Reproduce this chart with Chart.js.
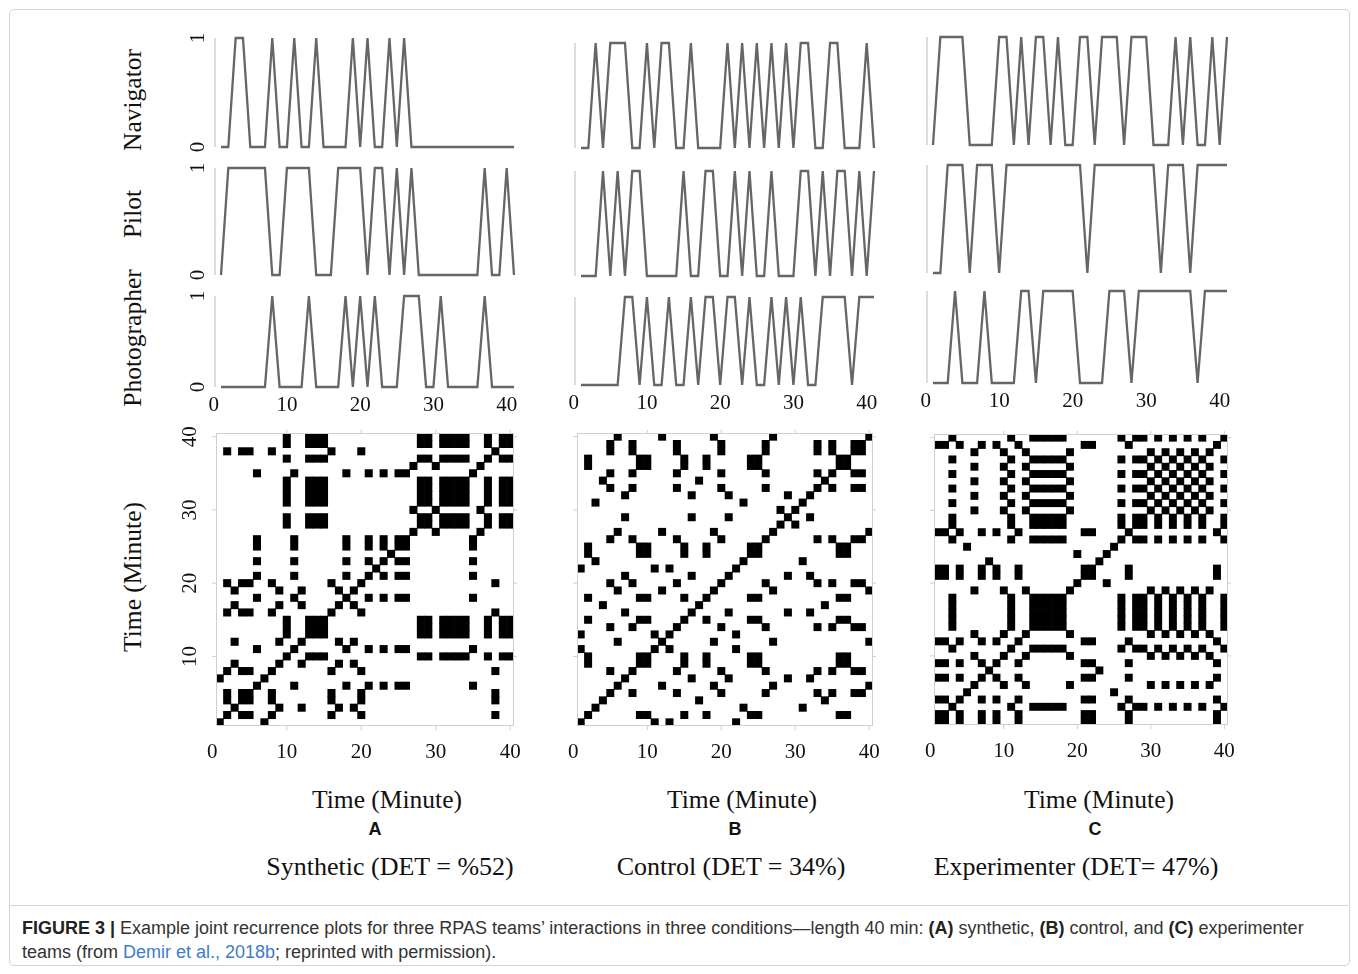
<!DOCTYPE html>
<html>
<head>
<meta charset="utf-8">
<script src="https://cdn.jsdelivr.net/npm/chart.js@4.4.1/dist/chart.umd.min.js"></script>
<style>
  body { margin: 0; background: #fff; }
  #fig { position: relative; width: 1358px; height: 974px; overflow: hidden; background: #fff;
         font-family: 'Liberation Serif', 'Times New Roman', serif; color: #111; }
  #fig canvas { position: absolute; }
  .t { position: absolute; white-space: nowrap; transform: translate(-50%, -50%); }
  .rot { transform: translate(-50%, -50%) rotate(-90deg); }
  .serif { font-size: 25.5px; }
  .sub { font-size: 26px; }
  .letter { font-family: 'Liberation Sans', Arial, sans-serif; font-weight: bold; font-size: 18px; }
  #box { position: absolute; left: 9px; top: 9px; width: 1339px; height: 955px; border: 1px solid #d4d4d4; border-radius: 5px; }
  #rule { position: absolute; left: 10px; top: 905px; width: 1338px; height: 0; border-top: 1px solid #d4d4d4; }
  .cap { position: absolute; left: 22px; font-family: 'Liberation Sans', Arial, sans-serif; font-size: 18px; color: #333; white-space: nowrap; }
  .cap b { color: #222; }
  .cap .lnk { color: #3d7cc9; }
</style>
</head>
<body>
<div id="fig">
  <div id="box"></div>
  <div id="rule"></div>

  <div class="t rot serif" style="left:133px; top:100px;">Navigator</div>
  <div class="t rot serif" style="left:133px; top:214px;">Pilot</div>
  <div class="t rot serif" style="left:133px; top:338px;">Photographer</div>
  <div class="t rot serif" style="left:133px; top:577px;">Time (Minute)</div>

  <div class="t serif" style="left:387px; top:800px;">Time (Minute)</div>
  <div class="t serif" style="left:742px; top:800px;">Time (Minute)</div>
  <div class="t serif" style="left:1099px; top:800px;">Time (Minute)</div>

  <div class="t letter" style="left:375px; top:829px;">A</div>
  <div class="t letter" style="left:735px; top:829px;">B</div>
  <div class="t letter" style="left:1095px; top:829px;">C</div>

  <div class="t sub" style="left:390px; top:867px;">Synthetic (DET = %52)</div>
  <div class="t sub" style="left:731px; top:867px;">Control (DET = 34%)</div>
  <div class="t sub" style="left:1076px; top:867px;">Experimenter (DET= 47%)</div>

  <div class="cap" style="top:918px;"><b>FIGURE 3 |</b> Example joint recurrence plots for three RPAS teams’ interactions in three conditions—length 40 min: <b>(A)</b> synthetic, <b>(B)</b> control, and <b>(C)</b> experimenter</div>
  <div class="cap" style="top:942px;">teams (from <span class="lnk">Demir et al., 2018b</span>; reprinted with permission).</div>
</div>

<script>
// sample times (minutes) of the activity traces
const sampleMinutes = [1,2,3,4,5,6,7,8,9,10,11,12,13,14,15,16,17,18,19,20,21,22,23,24,25,26,27,28,29,30,31,32,33,34,35,36,37,38,39,40,41];
// minutes of the recurrence grid
const rpMinutes = [1,2,3,4,5,6,7,8,9,10,11,12,13,14,15,16,17,18,19,20,21,22,23,24,25,26,27,28,29,30,31,32,33,34,35,36,37,38,39,40];
const xTickLabels = [0, 10, 20, 30, 40];
const rpTickLabels = [10, 20, 30, 40];
const levelTicks = [0, 1];

// A - synthetic
const navigatorA    = [0,0,1,1,0,0,0,1,0,0,1,0,0,1,0,0,0,0,1,0,1,0,0,1,0,1,0,0,0,0,0,0,0,0,0,0,0,0,0,0,0];
const pilotA        = [0,1,1,1,1,1,1,0,0,1,1,1,1,0,0,0,1,1,1,1,0,1,1,0,1,0,1,0,0,0,0,0,0,0,0,0,1,0,0,1,0];
const photographerA = [0,0,0,0,0,0,0,1,0,0,0,0,1,0,0,0,0,1,0,1,0,1,0,0,0,1,1,1,0,0,1,0,0,0,0,0,1,0,0,0,0];
// B - control
const navigatorB    = [0,0,1,0,1,1,1,0,0,1,0,1,1,0,0,1,0,0,0,0,1,0,1,0,1,0,1,0,1,0,1,1,0,0,1,1,0,0,0,1,0];
const pilotB        = [0,0,0,1,0,1,0,1,1,0,0,0,0,0,1,0,0,1,1,0,0,1,0,1,0,0,1,0,0,0,1,1,0,1,0,1,1,0,1,0,1];
const photographerB = [0,0,0,0,0,0,1,1,0,1,0,0,1,0,0,1,0,1,1,0,1,1,0,1,0,0,1,0,1,0,1,0,0,1,1,1,1,0,1,1,1];
// C - experimenter
const navigatorC    = [0,1,1,1,1,0,0,0,0,1,1,0,1,0,1,1,0,1,0,0,1,1,0,1,1,1,0,1,1,1,0,0,0,1,0,1,0,0,1,0,1];
const pilotC        = [0,0,1,1,1,0,1,1,1,0,1,1,1,1,1,1,1,1,1,1,1,0,1,1,1,1,1,1,1,1,1,0,1,1,1,0,1,1,1,1,1];
const photographerC = [0,0,0,1,0,0,0,1,0,0,0,0,1,1,0,1,1,1,1,1,0,0,0,0,1,1,1,0,1,1,1,1,1,1,1,1,0,1,1,1,1];

// joint team state per minute (same number = recurrent)
const teamStateA = [6,2,4,2,2,3,6,2,4,1,3,4,1,1,1,2,4,3,4,2,3,7,3,8,3,3,5,1,1,5,1,1,1,1,3,5,1,2,1,1];
const teamStateB = [5,1,6,7,2,3,4,2,1,1,5,3,5,2,1,4,7,1,3,2,4,5,6,1,1,2,3,8,4,8,6,4,2,7,2,1,1,2,2,3];
const teamStateC = [3,3,1,3,4,2,3,5,3,2,1,3,2,1,1,1,1,1,2,6,3,3,5,6,4,1,3,1,1,2,1,2,1,2,1,2,1,2,3,1];

function recurrenceCells(states) {
  const pts = [];
  rpMinutes.forEach((mi, i) => rpMinutes.forEach((mj, j) => {
    if (states[i] === states[j]) pts.push({ x: mi, y: mj });
  }));
  return pts;
}

const fig = document.getElementById('fig');
const SERIF = '"Liberation Serif", "Times New Roman", serif';

const decor = {
  id: 'decor',
  afterDatasetsDraw(chart, args, o) {
    const { ctx, chartArea: a } = chart;
    const sx = chart.scales.x, sy = chart.scales.y;
    ctx.save();
    if (o.axisLine) {
      ctx.strokeStyle = '#d2d2d2'; ctx.lineWidth = 1.5;
      ctx.beginPath();
      ctx.moveTo(a.left - o.axisLine, sy.getPixelForValue(1));
      ctx.lineTo(a.left - o.axisLine, sy.getPixelForValue(0));
      ctx.stroke();
    }
    if (o.frame) {
      ctx.strokeStyle = '#cfcfcf'; ctx.lineWidth = 1;
      ctx.strokeRect(a.left + 0.5, a.top + 0.5, a.right - a.left - 1, a.bottom - a.top - 1);
      ctx.beginPath();
      rpTickLabels.forEach(v => {
        const px = sx.getPixelForValue(v), py = sy.getPixelForValue(v);
        ctx.moveTo(px, a.bottom); ctx.lineTo(px, a.bottom + 4);
        ctx.moveTo(px, a.top); ctx.lineTo(px, a.top - 3);
        ctx.moveTo(a.left, py); ctx.lineTo(a.left - 4, py);
        ctx.moveTo(a.right, py); ctx.lineTo(a.right + 3, py);
      });
      ctx.stroke();
    }
    ctx.fillStyle = '#111';
    ctx.font = o.font || ('21px ' + SERIF);
    ctx.textAlign = 'center'; ctx.textBaseline = 'middle';
    if (o.xLabels) o.xLabels.forEach(v => ctx.fillText(String(v), sx.getPixelForValue(v), a.bottom + o.xGap));
    if (o.yLabels) o.yLabels.forEach(v => {
      ctx.save();
      ctx.translate(a.left - o.yGap, sy.getPixelForValue(v));
      ctx.rotate(-Math.PI / 2);
      ctx.fillText(String(v), 0, 0);
      ctx.restore();
    });
    ctx.restore();
  }
};

function place(left, top, right, bottom, config) {
  const pad = 40;
  const c = document.createElement('canvas');
  const w = Math.round(right - left) + 2 * pad, h = Math.round(bottom - top) + 2 * pad;
  c.width = w; c.height = h;
  c.style.width = w + 'px'; c.style.height = h + 'px';
  c.style.left = Math.round(left - pad) + 'px';
  c.style.top = Math.round(top - pad) + 'px';
  fig.appendChild(c);
  config.options.layout = { padding: pad };
  config.options.responsive = false;
  config.options.animation = false;
  config.options.events = [];
  config.options.plugins = Object.assign({ legend: { display: false }, tooltip: { enabled: false } }, config.options.plugins);
  config.plugins = [decor];
  return new Chart(c, config);
}

function tracePanel(x0, x1, yTop, yBottom, values, showLevels, showX) {
  place(x0, yTop, x1, yBottom, {
    type: 'line',
    data: {
      datasets: [{
        data: sampleMinutes.map((m, i) => ({ x: m, y: values[i] })),
        borderColor: '#666', borderWidth: 2.3, pointRadius: 0, tension: 0, clip: 6,
        borderJoinStyle: 'miter'
      }]
    },
    options: {
      scales: {
        x: { type: 'linear', display: false, min: sampleMinutes[0], max: sampleMinutes[sampleMinutes.length - 1] },
        y: { type: 'linear', display: false, min: 0, max: 1 }
      },
      plugins: {
        decor: {
          axisLine: 6,
          xLabels: showX ? xTickLabels : null, xGap: 18,
          yLabels: showLevels ? levelTicks : null, yGap: 23,
          font: '21px ' + SERIF
        }
      }
    }
  });
}

function recurrencePanel(left, top, right, bottom, states, showY) {
  place(left, top, right, bottom, {
    type: 'scatter',
    data: {
      datasets: [{
        data: recurrenceCells(states),
        pointStyle: 'rect',
        backgroundColor: '#000', borderWidth: 0,
        radius: (ctx) => {
          const s = ctx.chart.scales.x;
          return (Math.abs(s.getPixelForValue(1) - s.getPixelForValue(0)) + 0.6) * Math.SQRT1_2;
        }
      }]
    },
    options: {
      scales: {
        x: { type: 'linear', display: false, min: 0.5, max: 40.5 },
        y: { type: 'linear', display: false, min: 0.5, max: 40.5 }
      },
      plugins: {
        decor: {
          frame: true,
          xLabels: xTickLabels, xGap: 26,
          yLabels: showY ? rpTickLabels : null, yGap: 26,
          font: '21px ' + SERIF
        }
      }
    }
  });
}

// column A
tracePanel(220.7, 514, 38, 147, navigatorA, true, false);
tracePanel(220.7, 514, 168, 275, pilotA, true, false);
tracePanel(220.7, 514, 296, 387, photographerA, true, true);
// column B
tracePanel(581, 874, 43, 148, navigatorB, false, false);
tracePanel(581, 874, 171, 276, pilotB, false, false);
tracePanel(581, 874, 297, 385, photographerB, false, true);
// column C
tracePanel(933, 1227, 37, 145, navigatorC, false, false);
tracePanel(933, 1227, 165, 273, pilotC, false, false);
tracePanel(933, 1227, 291, 383, photographerC, false, true);

recurrencePanel(216, 433, 514, 726, teamStateA, true);
recurrencePanel(577, 433, 873, 726, teamStateB, false);
recurrencePanel(934, 434, 1228, 725, teamStateC, false);
</script>
</body>
</html>
